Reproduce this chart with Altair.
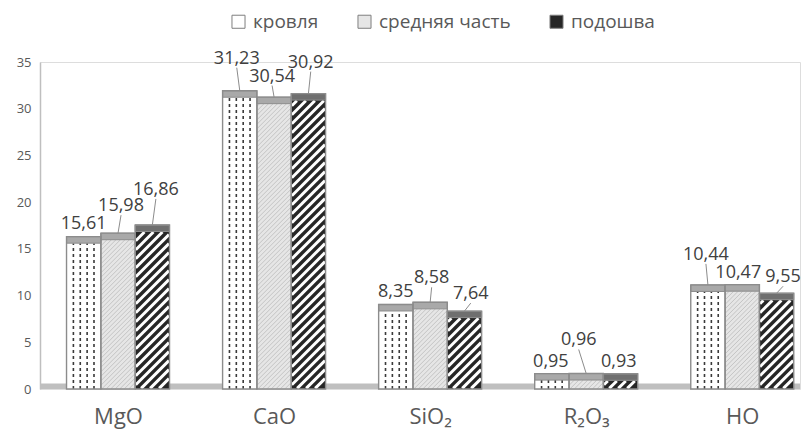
import json
import numpy as np
import pandas as pd
import altair as alt

# ---------------- data ----------------
categories = ["MgO", "CaO", "SiO₂", "R₂O₃", "HO"]
series = ["кровля", "средняя часть", "подошва"]
krovlya = [15.61, 31.23, 8.35, 0.95, 10.44]
srednyaya = [15.98, 30.54, 8.58, 0.96, 10.47]
podoshva = [16.86, 30.92, 7.64, 0.93, 9.55]
y_ticks = [0, 5, 10, 15, 20, 25, 30, 35]

# label placement tweaks (pixels, relative to bar centre / bar top)
label_dx = [[0, 3, 3.5], [-3, -2, 2.3], [0, 1.5, 6.3], [-1, -7.5, -1.7], [-2, -4, 6.5]]
label_dy = [[12.4, 27, 35], [32, 20.6, 31], [12, 24, 17], [12, 33, 12], [30, 12, 16]]

# ---------------- layout / style ----------------
W, H = 760, 327
XMIN, XMAX = -0.5, 4.37
YMAX = 35
BW = 0.22          # bar width in category units
CAP = 0.7          # 3-D top face thickness
PX = W / (XMAX - XMIN)
PY = H / YMAX
FONT = "Open Sans"

body_colors = ["#ffffff", "#e6e6e6", "#262626"]
cap_colors = ["#a9a9a9", "#a9a9a9", "#6f6f6f"]
OUTLINE = "#8c8c8c"

values = [krovlya, srednyaya, podoshva]
rows = []
for ci, cat in enumerate(categories):
    for si, s in enumerate(series):
        v = values[si][ci]
        xc = ci + (si - 1) * BW
        top = v + CAP
        dx = label_dx[ci][si]
        dy = label_dy[ci][si]
        rows.append(dict(
            cat=cat, series=s, value=v, zero=0.0,
            xc=xc, xl=xc - BW / 2, xr=xc + BW / 2, top=top,
            lx=xc + dx / PX, ly=top + dy / PY,
            lead=dy > 14, lead_y=top + (dy - 9) / PY,
            label=f"{v:.2f}".replace(".", ","),
        ))
df = pd.DataFrame(rows)


def hatch(series_name, spacing, inset):
    """Diagonal hatch segments clipped to each bar of one series."""
    out = []
    wpx = BW * PX
    for r in rows:
        if r["series"] != series_name:
            continue
        hpx = r["value"] * PY
        for c in np.arange(-wpx + 2, hpx, spacing):
            x0 = max(0.0, -c) + inset
            x1 = min(wpx, hpx - c) - inset
            if x1 - x0 > 0.8:
                out.append(dict(xa=r["xl"] + x0 / PX, ya=(x0 + c) / PY,
                                xb=r["xl"] + x1 / PX, yb=(x1 + c) / PY))
    return pd.DataFrame(out)


thick = hatch(series[2], 9.0, 0.6)
fine = hatch(series[1], 4.5, 0.3)

xs = alt.Scale(domain=[XMIN, XMAX], nice=False, zero=False)
ys = alt.Scale(domain=[0, YMAX], nice=False)
label_expr = json.dumps(categories, ensure_ascii=False) + "[datum.value]"
X_AX = alt.Axis(values=[0, 1, 2, 3, 4], labelExpr=label_expr, title=None,
                grid=False, ticks=False, domain=False, labelFont=FONT,
                labelFontSize=22, labelColor="#595959", labelPadding=17)
Y_AX = alt.Axis(values=y_ticks, title=None, grid=False, ticks=False,
                domainColor="#bfbfbf", domainWidth=1.5, labelFont=FONT,
                labelFontSize=13, labelColor="#595959", labelPadding=9)


def X(f):
    return alt.X(f, type="quantitative", scale=xs, axis=X_AX)


def Y(f):
    return alt.Y(f, type="quantitative", scale=ys, axis=Y_AX)


floor = alt.Chart(pd.DataFrame({"y0": [0.0], "y1": [0.6]})).mark_rect(
    color="#bfbfbf").encode(x=alt.value(0), x2=alt.value(W), y=Y("y0"), y2="y1")

base = alt.Chart(df)

bodies = base.mark_rect().encode(
    x=X("xl"), x2="xr", y=Y("value"), y2="zero",
    fill=alt.Fill("series:N", scale=alt.Scale(domain=series, range=body_colors),
                  legend=alt.Legend(orient="none", legendX=189, legendY=-50,
                                    direction="horizontal", title=None,
                                    symbolType="square", symbolSize=170,
                                    symbolStrokeColor="#7f7f7f",
                                    symbolStrokeWidth=1, labelFont=FONT,
                                    labelFontSize=19, labelColor="#595959",
                                    columnPadding=36, labelLimit=0,
                                    labelOffset=5)),
)

dash_layers = []
for f in [-0.3, -0.1, 0.1, 0.3]:
    dash_layers.append(
        base.transform_filter(alt.datum.series == series[0])
        .transform_calculate(xd=f"datum.xc + ({f}) * {BW}")
        .mark_rule(strokeDash=[3, 3], strokeWidth=1.6, color="#3a3a3a")
        .encode(x=X("xd"), y=Y("zero"), y2="value")
    )

fine_layer = alt.Chart(fine).mark_rule(color="#c4c4c4", strokeWidth=1,
                                       strokeCap="butt").encode(
    x=X("xa"), x2="xb", y=Y("ya"), y2="yb")

thick_layer = alt.Chart(thick).mark_rule(color="white", strokeWidth=2.9,
                                         strokeCap="butt").encode(
    x=X("xa"), x2="xb", y=Y("ya"), y2="yb")

caps = base.mark_rect(stroke=OUTLINE, strokeWidth=1).encode(
    x=X("xl"), x2="xr", y=Y("value"), y2="top",
    fill=alt.Fill("series:N", scale=alt.Scale(domain=series, range=cap_colors),
                  legend=None),
)

outlines = base.mark_rect(fillOpacity=0, fill="white", stroke=OUTLINE,
                          strokeWidth=1.4).encode(
    x=X("xl"), x2="xr", y=Y("zero"), y2="top")

leaders = base.transform_filter(alt.datum.lead).mark_rule(
    color="#8c8c8c", strokeWidth=1).encode(
    x=X("lx"), x2="xc", y=Y("lead_y"), y2="top")

labels = base.mark_text(font=FONT, fontSize=18, color="#404040",
                        baseline="middle", align="center").encode(
    x=X("lx"), y=Y("ly"), text="label:N")

chart = alt.layer(
    floor, bodies, *dash_layers, fine_layer, thick_layer, caps, outlines,
    leaders, labels
).resolve_scale(fill="independent").properties(
    width=W, height=H,
    autosize=alt.AutoSizeParams(type="none"),
    padding={"left": 32, "top": 54, "right": 2, "bottom": 40},
).configure_view(stroke=None).configure(background="white")

chart.save("out.html", embed_options={"renderer": "svg", "actions": False})
